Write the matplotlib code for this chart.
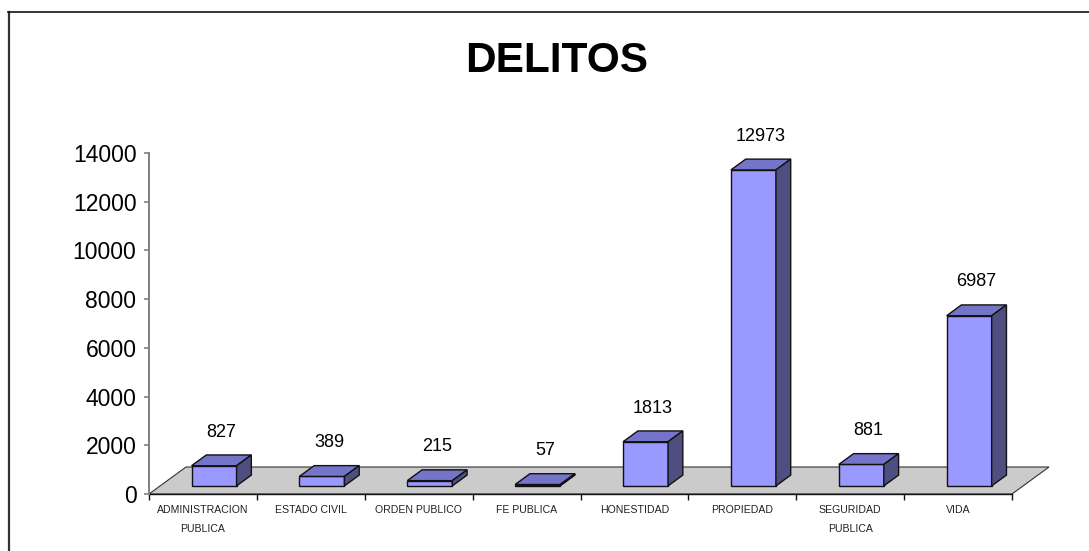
import numpy as np
import matplotlib
matplotlib.use('Agg')
from matplotlib import pyplot as plt
from matplotlib.patches import Polygon, Rectangle
from matplotlib.lines import Line2D

# datos
categorias = ['ADMINISTRACION\nPUBLICA', 'ESTADO CIVIL', 'ORDEN PUBLICO', 'FE PUBLICA',
              'HONESTIDAD', 'PROPIEDAD', 'SEGURIDAD\nPUBLICA', 'VIDA']
valores = [827, 389, 215, 57, 1813, 12973, 881, 6987]
y_ticks = [0, 2000, 4000, 6000, 8000, 10000, 12000, 14000]

plt.rcParams['font.family'] = ['Liberation Sans', 'DejaVu Sans']

W, H = 1089, 551
fig = plt.figure(figsize=(W / 100, H / 100), dpi=100)

# marco del grafico
fig.add_artist(Line2D([8.5 / W, 8.5 / W], [0, 1 - 12 / H], color='#333333', lw=1.6))
fig.add_artist(Line2D([8 / W, 1], [1 - 12 / H, 1 - 12 / H], color='#111111', lw=1.2))

fig.text(557 / W, 1 - 61 / H, 'DELITOS', fontsize=30.5, fontweight='bold',
         ha='center', va='center')

# ejes: una categoria = 107.875 px, 14000 = 341 px
px_cat = 107.875
ax_left, ax_right, ax_bottom, ax_top = 149, 1060, 494, 153
ax = fig.add_axes([ax_left / W, 1 - ax_bottom / H, (ax_right - ax_left) / W,
                   (ax_bottom - ax_top) / H])
ax.set_xlim(-0.5, -0.5 + (ax_right - ax_left) / px_cat)
ax.set_ylim(0, 14000)
val_px = 14000 / 341.0

# profundidad del piso
ddx = 37 / px_cat
D = 27 * val_px
f0, f1 = 0.3, 0.7
bw = 45 / px_cat

n = len(valores)
piso = Polygon([(-0.5, 0), (n - 0.5, 0), (n - 0.5 + ddx, D), (-0.5 + ddx, D)],
               closed=True, facecolor='#CBCBCB', edgecolor='#333333', lw=0.8,
               clip_on=False, zorder=1)
ax.add_patch(piso)

frente, arriba, lado = '#9999FF', '#7474C8', '#4E4E80'
bdx = (f1 - f0) * ddx
bdy = (f1 - f0) * D
for i, v in enumerate(valores):
    xl = i + f0 * ddx - bw / 2
    yb = f0 * D
    ax.add_patch(Rectangle((xl, yb), bw, v, facecolor=frente, edgecolor='#111111',
                           lw=1.0, clip_on=False, zorder=3))
    ax.add_patch(Polygon([(xl, yb + v), (xl + bw, yb + v), (xl + bw + bdx, yb + v + bdy),
                          (xl + bdx, yb + v + bdy)], closed=True, facecolor=arriba,
                         edgecolor='#111111', lw=1.0, clip_on=False, zorder=3))
    ax.add_patch(Polygon([(xl + bw, yb), (xl + bw + bdx, yb + bdy),
                          (xl + bw + bdx, yb + v + bdy), (xl + bw, yb + v)], closed=True,
                         facecolor=lado, edgecolor='#111111', lw=1.0, clip_on=False,
                         zorder=3))
    # etiqueta sobre el centro de la cara superior
    ax.annotate(str(v), (xl + bw / 2 + bdx / 2, yb + bdy + v), xytext=(0, 16.5),
                textcoords='offset points', ha='center', va='center', fontsize=13,
                annotation_clip=False)

# ejes y ticks
for s in ['top', 'right']:
    ax.spines[s].set_visible(False)
ax.spines['left'].set_color('#808080')
ax.spines['left'].set_linewidth(1.4)
ax.spines['bottom'].set_color('#111111')
ax.spines['bottom'].set_linewidth(1.0)
ax.spines['bottom'].set_bounds(-0.5, n - 0.5)
ax.spines['bottom'].set_zorder(2)

ax.set_yticks(y_ticks)
ax.set_yticklabels([str(t) for t in y_ticks], fontsize=16.5)
ax.tick_params(axis='y', length=3.5, width=1.2, color='#808080', pad=5.5)

ax.set_xticks(np.arange(n + 1) - 0.5)
ax.set_xticklabels([])
ax.tick_params(axis='x', which='major', length=4.5, width=1.0, color='#111111')
ax.set_xticks(np.arange(n), minor=True)
ax.set_xticklabels(categorias, minor=True, fontsize=7.6, color='#222222', linespacing=2.05)
ax.tick_params(axis='x', which='minor', length=0, pad=8.0)

ax.patch.set_visible(False)

fig.savefig('out.png', dpi=100)
